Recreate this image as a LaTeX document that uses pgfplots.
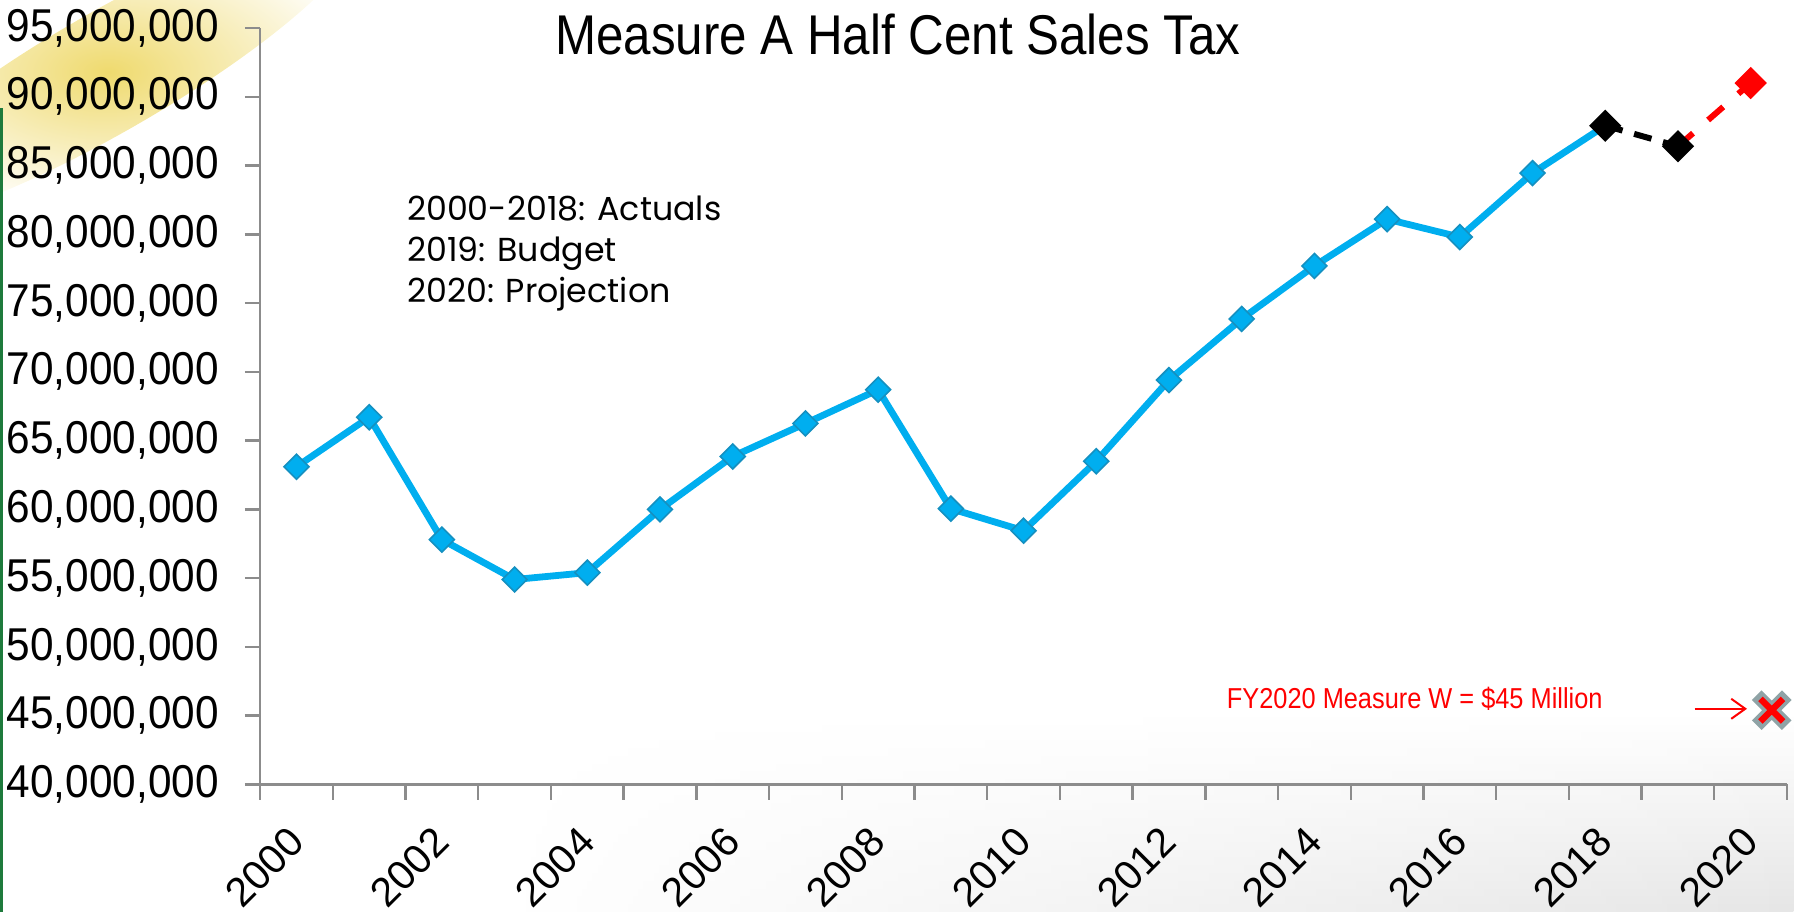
\documentclass[border=0pt]{standalone}
\usepackage{fontspec}
\setmainfont{Liberation Sans}
\newfontfamily\narrow{Liberation Sans}[FakeStretch=0.88]
\newfontfamily\ticknarrow{Liberation Sans}[FakeStretch=0.92]
\newfontfamily\gothic{Poppins}
\usepackage{pgfplots}
\pgfplotsset{compat=1.18}
\usetikzlibrary{arrows.meta,backgrounds,calc,fadings}
\definecolor{Sky}{HTML}{00AEEF}
\definecolor{SkyEdge}{HTML}{1590C0}
\definecolor{AxisGray}{HTML}{8C8C8C}
\definecolor{XGray}{HTML}{8FA3A6}
\definecolor{Glow}{HTML}{EFDA6E}
\definecolor{EdgeGreen}{HTML}{1E7A3C}
\tikzfading[name=fadeleft, left color=transparent!100, right color=transparent!0]

\begin{document}
\begin{tikzpicture}
\begin{axis}[
  name=ax,
  scale only axis,
  width=381.5bp,
  height=189bp,
  xmin=-0.5, xmax=20.5,
  ymin=40000000, ymax=95000000,
  clip=false,
  axis x line*=bottom,
  axis y line*=left,
  axis line style={AxisGray, line width=0.6pt},
  tick style={AxisGray, line width=0.6pt},
  tick align=outside,
  major tick length=3.8bp,
  xtick={-0.5,0.5,...,20.5},
  xticklabels={},
  extra x ticks={0,2,...,20},
  extra x tick labels={2000,2002,2004,2006,2008,2010,2012,2014,2016,2018,2020},
  extra x tick style={major tick length=0pt,
    xticklabel style={anchor=north east, xshift=-2.6bp, yshift=-5.1bp, rotate=45,
      font=\fontsize{10.2bp}{12bp}\selectfont}},
  ytick={40000000,45000000,...,95000000},
  yticklabels={{40,000,000},{45,000,000},{50,000,000},{55,000,000},{60,000,000},{65,000,000},{70,000,000},{75,000,000},{80,000,000},{85,000,000},{90,000,000},{95,000,000}},
  yticklabel style={font=\ticknarrow\fontsize{11.5bp}{13bp}\selectfont, xshift=-3bp},
  scaled y ticks=false,
]
% 2000-2018 actuals
\addplot[Sky, line width=1.7bp, mark=square*,
  mark options={rotate=45, fill=Sky, draw=SkyEdge, line width=0.4bp, solid},
  mark size=2.2bp] coordinates {
  (0,63100000) (1,66700000) (2,57800000) (3,54900000) (4,55400000)
  (5,60000000) (6,63850000) (7,66250000) (8,68700000) (9,60050000)
  (10,58450000) (11,63500000) (12,69400000) (13,73850000) (14,77700000)
  (15,81100000) (16,79800000) (17,84450000) (18,87900000)};
% 2020 projection
\addplot[red, line width=1.5bp, dash pattern=on 5bp off 5bp,
  mark=square*, mark options={rotate=45, fill=red, draw=red, solid},
  mark size=2.1bp, mark indices={2}] coordinates {
  (19,86400000) (20,91000000)};
% 2019 budget
\addplot[black, line width=1.5bp, dash pattern=on 4.5bp off 3bp,
  mark=square*, mark options={rotate=45, fill=black, solid},
  mark size=2.1bp] coordinates {
  (18,87900000) (19,86400000)};
% Measure W
\addplot[only marks, mark=x, mark size=5.3bp, mark options={XGray, line width=3.4bp}]
  coordinates {(20.29,45400000)};
\addplot[only marks, mark=x, mark size=4bp, mark options={red, line width=1.6bp}]
  coordinates {(20.29,45400000)};
\draw[red, line width=0.5bp, -{Straight Barb[length=3.5bp,width=5bp]}]
  (axis cs:19.23,45500000) -- (axis cs:19.95,45500000);
\node[red, font=\narrow\fontsize{7.2bp}{8bp}\selectfont, anchor=center]
  at (axis cs:15.38,46250000) {FY2020 Measure W = \$45 Million};
\node[font=\gothic\fontsize{8.3bp}{10.25bp}\selectfont, align=left, anchor=west, inner sep=0pt]
  at (axis cs:1.51,78600000) {2000-2018: Actuals\\2019: Budget\\2020: Projection};
\node[font=\narrow\fontsize{14bp}{16bp}\selectfont, anchor=center]
  at (axis cs:8.27,94560000) {Measure A Half Cent Sales Tax};
\end{axis}
\begin{scope}[on background layer]
  \begin{scope}[shift={($(ax.north west)+(-38bp,-11bp)$)}, rotate=30]
    \shade[inner color=Glow, outer color=white] (0,0) ellipse (72bp and 15bp);
  \end{scope}
  \shade[top color=white, bottom color=black!10, path fading=fadeleft]
    ($(ax.south west)+(60bp,18bp)$) rectangle ($(ax.south east)+(1.75bp,-31.75bp)$);
\end{scope}
\draw[EdgeGreen, line width=0.8bp]
  ($(ax.north west)+(-64.6bp,-20bp)$) -- ($(ax.south west)+(-64.6bp,-31.75bp)$);
\pgfresetboundingbox
\path[use as bounding box] ($(ax.south west)+(-65bp,-31.75bp)$) rectangle ($(ax.north east)+(1.75bp,7bp)$);
\end{tikzpicture}
\end{document}
